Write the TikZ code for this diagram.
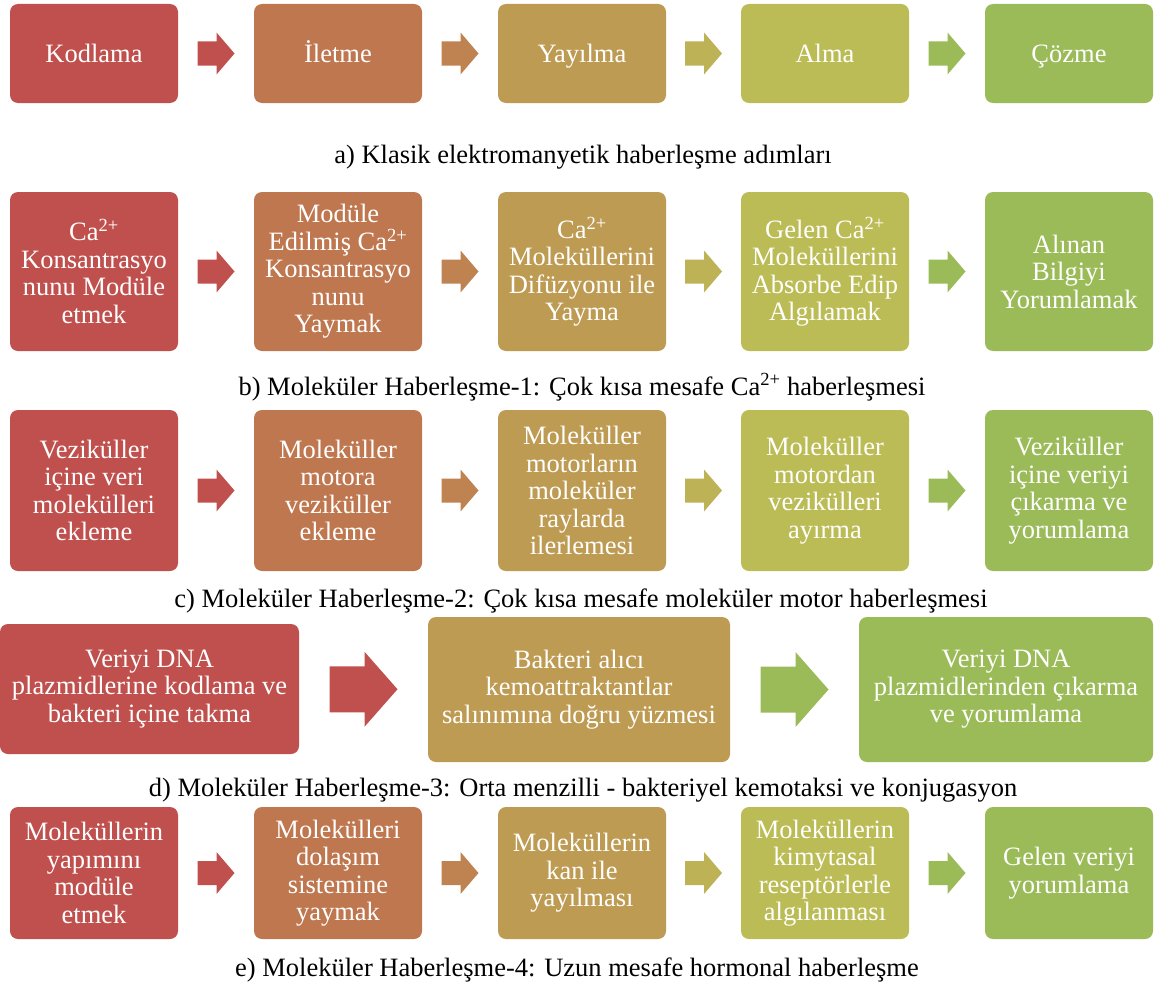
\documentclass[tikz,border=0pt]{standalone}
\usepackage{fontspec}
\setmainfont{Liberation Serif}
\usetikzlibrary{calc}
\definecolor{cA}{HTML}{C0504D}
\definecolor{cB}{HTML}{BF7750}
\definecolor{cC}{HTML}{BE9B53}
\definecolor{cD}{HTML}{BCBC56}
\definecolor{cE}{HTML}{9BBB59}
\definecolor{aB}{HTML}{BE8351}
\definecolor{aC}{HTML}{BDB255}
% #1 from node, #2 to node, #3 colour, #4 length, #5 head width, #6 shaft width, #7 head length
\newcommand\mkarrow[7]{%
  \path ($(#1.east)!0.5!(#2.west)$) coordinate (bm);
  \fill[#3] ([shift={(-#4/2,-#6/2)}]bm) -- ([shift={(#4/2-#7,-#6/2)}]bm)
    -- ([shift={(#4/2-#7,-#5/2)}]bm) -- ([shift={(#4/2,0)}]bm)
    -- ([shift={(#4/2-#7,#5/2)}]bm) -- ([shift={(#4/2-#7,#6/2)}]bm)
    -- ([shift={(-#4/2,#6/2)}]bm) -- cycle;}
\newcommand\smallarrow[3]{\mkarrow{#1}{#2}{#3}{37}{42}{24}{18}}
\newcommand\bigarrow[3]{\mkarrow{#1}{#2}{#3}{68}{75}{46}{33}}
\tikzset{
  stage/.style={rectangle, rounded corners=8pt, fill=#1, draw=none,
    text=white, align=center, inner sep=0pt,
    font=\fontsize{26.5}{27.5}\selectfont},
  caption/.style={anchor=base, text=black, inner sep=0pt,
    font=\fontsize{26.5}{27.5}\selectfont}
}
\begin{document}
\begin{tikzpicture}[x=1pt,y=-1pt]
\useasboundingbox (0,0) rectangle (1155,982);
% ---------- row a ----------
\foreach \n/\x/\c/\t in {1/94/cA/Kodlama, 2/338/cB/İletme, 3/582/cC/Yayılma, 4/825/cD/Alma, 5/1069/cE/Çözme}
  \node[stage=\c, minimum width=168pt, minimum height=99pt, text height=18pt, text depth=0pt] (a\n) at (\x,53.5) {\t};
\smallarrow{a1}{a2}{cA}
\smallarrow{a2}{a3}{aB}
\smallarrow{a3}{a4}{aC}
\smallarrow{a4}{a5}{cE}
\node[caption] (capa) at (583,163) {a) Klasik elektromanyetik haberleşme adımları};
% ---------- row b ----------
\tikzset{rb/.style={stage=#1, minimum width=168pt, minimum height=159pt}}
\node[rb=cA] (b1) at (94,271.5) {Ca\textsuperscript{2+}\\Konsantrasyo\\nunu Modüle\\etmek};
\node[rb=cB] (b2) at (338,271.5) {Modüle\\Edilmiş Ca\textsuperscript{2+}\\Konsantrasyo\\nunu\\Yaymak};
\node[rb=cC] (b3) at (582,271.5) {Ca\textsuperscript{2+}\\Moleküllerini\\Difüzyonu ile\\Yayma};
\node[rb=cD] (b4) at (825,271.5) {Gelen Ca\textsuperscript{2+}\\Moleküllerini\\Absorbe Edip\\Algılamak};
\node[rb=cE] (b5) at (1069,271.5) {Alınan\\Bilgiyi\\Yorumlamak};
\smallarrow{b1}{b2}{cA}
\smallarrow{b2}{b3}{aB}
\smallarrow{b3}{b4}{aC}
\smallarrow{b4}{b5}{cE}
\node[caption] (capb) at (582,395) {b) Moleküler Haberleşme-1: Çok kısa mesafe Ca\textsuperscript{2+} haberleşmesi};
% ---------- row c ----------
\tikzset{rc/.style={stage=#1, minimum width=168pt, minimum height=161pt}}
\node[rc=cA] (c1) at (94,490.5) {Veziküller\\içine veri\\molekülleri\\ekleme};
\node[rc=cB] (c2) at (338,490.5) {Moleküller\\motora\\veziküller\\ekleme};
\node[rc=cC] (c3) at (582,490.5) {Moleküller\\motorların\\moleküler\\raylarda\\ilerlemesi};
\node[rc=cD] (c4) at (825,490.5) {Moleküller\\motordan\\vezikülleri\\ayırma};
\node[rc=cE] (c5) at (1069,490.5) {Veziküller\\içine veriyi\\çıkarma ve\\yorumlama};
\smallarrow{c1}{c2}{cA}
\smallarrow{c2}{c3}{aB}
\smallarrow{c3}{c4}{aC}
\smallarrow{c4}{c5}{cE}
\node[caption] (capc) at (581,607) {c) Moleküler Haberleşme-2: Çok kısa mesafe moleküler motor haberleşmesi};
% ---------- row d ----------
\node[stage=cA, minimum width=299pt, minimum height=130pt] (d1) at (149.5,689) {Veriyi DNA\\plazmidlerine kodlama ve\\bakteri içine takma};
\node[stage=cC, minimum width=302pt, minimum height=145pt] (d2) at (579,689.5) {Bakteri alıcı\\kemoattraktantlar\\salınımına doğru yüzmesi};
\node[stage=cE, minimum width=294pt, minimum height=145pt] (d3) at (1006,689.5) {Veriyi DNA\\plazmidlerinden çıkarma\\ve yorumlama};
\bigarrow{d1}{d2}{cA}
\bigarrow{d2}{d3}{cE}
\node[caption] (capd) at (583,796) {d) Moleküler Haberleşme-3: Orta menzilli - bakteriyel kemotaksi ve konjugasyon};
% ---------- row e ----------
\tikzset{re/.style={stage=#1, minimum width=168pt, minimum height=132pt}}
\node[re=cA] (e1) at (94,873) {Moleküllerin\\yapımını\\modüle\\etmek};
\node[re=cB] (e2) at (338,873) {Molekülleri\\dolaşım\\sistemine\\yaymak};
\node[re=cC] (e3) at (582,873) {Moleküllerin\\kan ile\\yayılması};
\node[re=cD] (e4) at (825,873) {Moleküllerin\\kimytasal\\reseptörlerle\\algılanması};
\node[re=cE] (e5) at (1069,873) {Gelen veriyi\\yorumlama};
\smallarrow{e1}{e2}{cA}
\smallarrow{e2}{e3}{aB}
\smallarrow{e3}{e4}{aC}
\smallarrow{e4}{e5}{cE}
\node[caption] (cape) at (577,976) {e) Moleküler Haberleşme-4: Uzun mesafe hormonal haberleşme};
\end{tikzpicture}
\end{document}
